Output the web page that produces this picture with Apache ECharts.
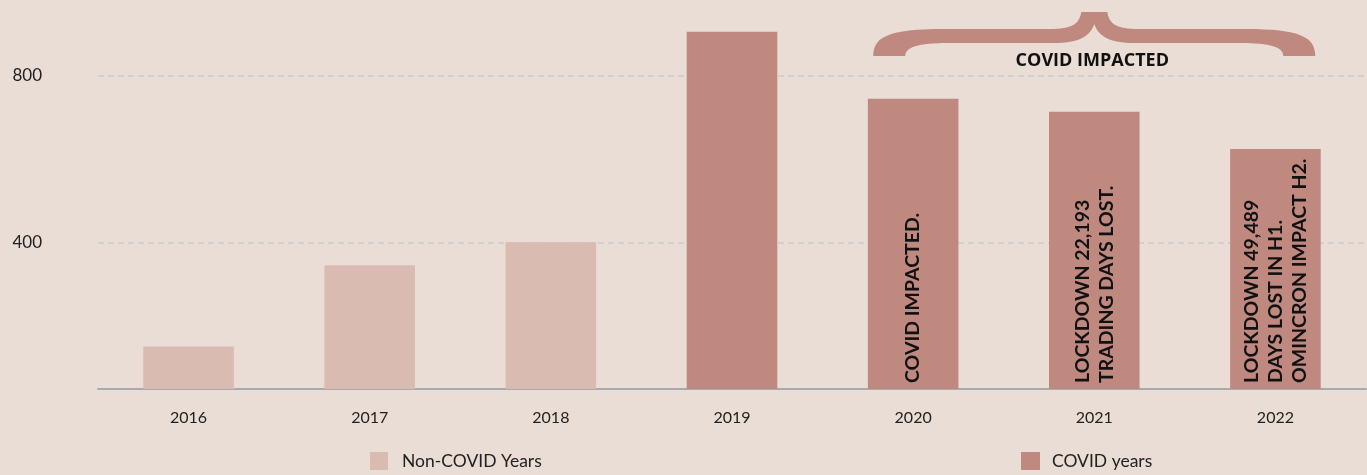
<!DOCTYPE html>
<html>
<head>
<meta charset="utf-8">
<script src="https://cdn.jsdelivr.net/npm/echarts@6/dist/echarts.min.js"></script>
<style>
  html, body { margin: 0; padding: 0; background: #eaddd5; }
  #chart { width: 1367px; height: 475px; }
</style>
</head>
<body>
<div id="chart"></div>
<script>
// data
const years = ['2016', '2017', '2018', '2019', '2020', '2021', '2022'];
const nonCovid = [150, 345, 400, '-', '-', '-', '-'];
const covid = ['-', '-', '-', 905, 744, 713, 624];
const notes = ['', '', '', '',
  'COVID IMPACTED.',
  'LOCKDOWN 22,193\nTRADING DAYS LOST.',
  'LOCKDOWN 49,489\nDAYS LOST IN H1.\nOMINCRON IMPACT H2.'];
const yTicks = [400, 800];
const braceSpan = [[4, 6]];  // categories covered by the brace
const braceText = 'COVID IMPACTED';

const LIGHT = '#dabbb1';
const DARK = '#c08980';
const FONT = 'Lato, "Open Sans", sans-serif';

let chart = echarts.init(document.getElementById('chart'));

function renderBrace(params, api) {
  let a = api.coord([api.value(0), 950]);
  let b = api.coord([api.value(1), 950]);
  let bw = api.size([1, 0])[0];
  let xL = a[0] - bw * 0.22;
  let xR = b[0] + bw * 0.22;
  let xM = (xL + xR) / 2;
  let yT = a[1] - 1;          // tip top
  let y1 = yT + 17;           // band top
  let y2 = yT + 31;           // band bottom
  let yE = yT + 44;           // arm ends
  let d = [
    'M', xL, yE,
    'C', xL, y1 + 8, xL + 15, y1, xL + 70, y1,
    'L', xM - 45, y1,
    'C', xM - 22, y1, xM - 15, y1 - 5, xM - 13, yT,
    'L', xM + 13, yT,
    'C', xM + 15, y1 - 5, xM + 22, y1, xM + 45, y1,
    'L', xR - 70, y1,
    'C', xR - 15, y1, xR, y1 + 8, xR, yE,
    'L', xR - 32, yE,
    'C', xR - 32, y2 + 4, xR - 45, y2, xR - 75, y2,
    'L', xM + 40, y2,
    'C', xM + 15, y2, xM + 4, y2 - 7, xM, yT + 12,
    'C', xM - 4, y2 - 7, xM - 15, y2, xM - 40, y2,
    'L', xL + 75, y2,
    'C', xL + 45, y2, xL + 32, y2 + 4, xL + 32, yE,
    'Z'
  ].join(' ');
  return {
    type: 'group',
    children: [
      { type: 'path', shape: { pathData: d }, style: { fill: DARK } },
      {
        type: 'text',
        x: xM - 2, y: yE + 5,
        style: {
          text: braceText, fill: '#111', font: 'bold 18px "Open Sans", sans-serif',
          align: 'center', verticalAlign: 'middle'
        }
      }
    ]
  };
}

let option = {
  animation: false,
  backgroundColor: '#eaddd5',
  grid: { left: 98, right: 1, top: 13, bottom: 86 },
  legend: [
    {
      left: 370, top: 452, padding: 0, itemWidth: 18, itemHeight: 18,
      icon: 'rect', data: ['Non-COVID Years'],
      textStyle: { fontFamily: FONT, fontSize: 17.5, color: '#222', padding: [0, 0, 0, 9] }
    },
    {
      left: 1021, top: 452, padding: 0, itemWidth: 19, itemHeight: 18,
      icon: 'rect', data: ['COVID years'],
      textStyle: { fontFamily: FONT, fontSize: 17.5, color: '#222', padding: [0, 0, 0, 7] }
    }
  ],
  xAxis: {
    type: 'category',
    data: years,
    axisLine: { lineStyle: { color: '#a9a9ae', width: 2 } },
    axisTick: { show: false },
    axisLabel: { fontFamily: FONT, fontSize: 16, color: '#222', margin: 21 }
  },
  yAxis: {
    type: 'value',
    min: 48,
    max: 950,
    axisLine: { show: false },
    axisTick: { show: false },
    splitLine: { show: false },
    axisLabel: {
      customValues: yTicks,
      fontFamily: FONT, fontSize: 17, color: '#222',
      align: 'right', margin: 56
    }
  },
  series: [
    {
      name: 'Non-COVID Years',
      type: 'bar',
      stack: 'all',
      barWidth: '50%',
      itemStyle: { color: LIGHT },
      data: nonCovid,
      markLine: {
        silent: true,
        z: 1,
        symbol: 'none',
        label: { show: false },
        lineStyle: { color: '#c9ccce', type: [6, 4], width: 1.5 },
        data: yTicks.map(v => ({ yAxis: v }))
      }
    },
    {
      name: 'COVID years',
      type: 'bar',
      stack: 'all',
      barWidth: '50%',
      itemStyle: { color: DARK },
      label: {
        show: true,
        position: 'insideBottom',
        rotate: 90,
        align: 'left',
        verticalAlign: 'middle',
        distance: 6,
        fontFamily: FONT,
        fontWeight: 'bold',
        fontSize: 19.5,
        lineHeight: 24,
        color: '#111',
        formatter: p => notes[p.dataIndex]
      },
      data: covid
    },
    {
      type: 'custom',
      silent: true,
      renderItem: renderBrace,
      encode: { x: [0, 1] },
      data: braceSpan,
      z: 3
    }
  ]
};

chart.setOption(option);
</script>
</body>
</html>
